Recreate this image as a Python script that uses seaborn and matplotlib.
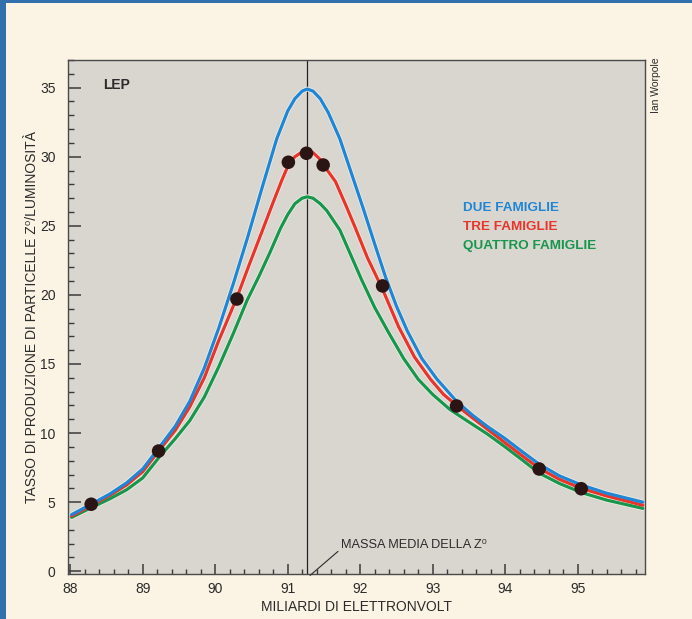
import matplotlib
matplotlib.use("Agg")
import matplotlib.pyplot as plt
from matplotlib.patches import Rectangle
from matplotlib.ticker import MultipleLocator
import pandas as pd
import seaborn as sns

# ---- data ----
due_x = [88.02, 88.29, 88.55, 88.78, 89.00, 89.22, 89.45, 89.65, 89.85, 90.05, 90.25, 90.45,
         90.65, 90.85, 91.00, 91.10, 91.20, 91.27, 91.35, 91.45, 91.56, 91.72, 91.88, 92.04,
         92.20, 92.35, 92.50, 92.65, 92.85, 93.06, 93.33, 93.55, 93.75, 94.00, 94.25, 94.47,
         94.75, 95.05, 95.40, 95.90]
due_y = [4.1, 4.85, 5.6, 6.4, 7.4, 8.9, 10.5, 12.3, 14.7, 17.6, 20.8, 24.2,
         27.8, 31.3, 33.3, 34.2, 34.75, 34.9, 34.75, 34.2, 33.2, 31.3, 28.8, 26.3,
         23.7, 21.3, 19.2, 17.4, 15.4, 13.9, 12.3, 11.3, 10.5, 9.6, 8.6, 7.75,
         6.9, 6.25, 5.65, 5.0]

tre_x = [88.02, 88.29, 88.55, 88.78, 89.00, 89.22, 89.45, 89.65, 89.85, 90.05, 90.30, 90.46,
         90.64, 90.80, 90.92, 91.01, 91.10, 91.20, 91.27, 91.35, 91.45, 91.55, 91.66, 91.81,
         91.93, 92.10, 92.31, 92.53, 92.75, 92.97, 93.15, 93.33, 93.55, 93.75, 94.00, 94.25,
         94.47, 94.75, 95.05, 95.40, 95.90]
tre_y = [4.0, 4.75, 5.5, 6.25, 7.2, 8.7, 10.2, 11.9, 14.0, 16.7, 19.8, 22.05,
         24.5, 26.7, 28.3, 29.4, 30.0, 30.35, 30.45, 30.3, 29.8, 29.0, 28.2, 26.4,
         24.9, 22.7, 20.4, 17.7, 15.5, 13.9, 12.8, 12.0, 11.1, 10.3, 9.3, 8.3,
         7.45, 6.65, 6.0, 5.45, 4.78]

quattro_x = [88.02, 88.29, 88.55, 88.78, 89.00, 89.22, 89.45, 89.65, 89.85, 90.05, 90.25,
             90.44, 90.60, 90.75, 90.90, 91.00, 91.10, 91.20, 91.27, 91.35, 91.45, 91.54,
             91.72, 91.87, 92.02, 92.20, 92.39, 92.60, 92.80, 93.00, 93.24, 93.50, 93.75,
             94.00, 94.25, 94.47, 94.75, 95.05, 95.40, 95.90]
quattro_y = [3.9, 4.6, 5.25, 5.9, 6.75, 8.2, 9.6, 10.9, 12.6, 14.8, 17.2,
             19.6, 21.3, 23.0, 24.8, 25.8, 26.6, 27.0, 27.1, 27.0, 26.6, 26.1,
             24.7, 22.9, 21.1, 19.1, 17.3, 15.4, 13.9, 12.8, 11.7, 10.8, 9.95,
             9.0, 8.0, 7.1, 6.35, 5.7, 5.15, 4.55]

misure_x = [88.29, 89.22, 90.30, 91.01, 91.26, 91.49, 92.31, 93.33, 94.47, 95.05]
misure_y = [4.85, 8.7, 19.7, 29.6, 30.25, 29.4, 20.65, 11.96, 7.4, 5.97]

massa_z = 91.27

x_ticks = [88, 89, 90, 91, 92, 93, 94, 95]
y_ticks = [0, 5, 10, 15, 20, 25, 30, 35]

serie_nomi = ["DUE FAMIGLIE", "TRE FAMIGLIE", "QUATTRO FAMIGLIE"]
serie_colori = ["#1f86d6", "#e8352b", "#17964d"]

# ---- build tidy frame ----
frames = []
for nome, xs, ys in zip(serie_nomi, [due_x, tre_x, quattro_x], [due_y, tre_y, quattro_y]):
    frames.append(pd.DataFrame({"E": xs, "tasso": ys, "serie": nome}))
curve = pd.concat(frames, ignore_index=True)
punti = pd.DataFrame({"E": misure_x, "tasso": misure_y})

sns.set_style("ticks")
plt.rcParams["font.family"] = ["Liberation Sans", "DejaVu Sans"]

BG = "#fbf4e5"
PLOT_BG = "#d9d6d0"
TXT = "#2b2b2b"

fig = plt.figure(figsize=(6.92, 6.19), dpi=100, facecolor=BG)
ax = fig.add_axes([68 / 692, 1 - 574 / 619, (645 - 68) / 692, (574 - 60) / 619])
ax.set_facecolor(PLOT_BG)

# blue border of the page
fig.patches.append(Rectangle((0, 0), 6 / 692, 1, transform=fig.transFigure,
                             facecolor="#3270ad", edgecolor="none", zorder=0))
fig.patches.append(Rectangle((0, 1 - 2.5 / 619), 1, 2.5 / 619, transform=fig.transFigure,
                             facecolor="#3270ad", edgecolor="none", zorder=0))

ax.axvline(massa_z, color="#222222", lw=0.9, zorder=1)

# light halo under the lines (print look)
sns.lineplot(data=curve, x="E", y="tasso", units="serie", estimator=None, sort=False,
             color="#f1eee4", lw=3.4, ax=ax, legend=False, zorder=2)
sns.lineplot(data=curve, x="E", y="tasso", hue="serie", hue_order=serie_nomi[::-1],
             palette=dict(zip(serie_nomi, serie_colori)), sort=False, lw=2.3,
             ax=ax, legend=False, zorder=3)
sns.scatterplot(data=punti, x="E", y="tasso", color="#2a1414", s=95, edgecolor="none",
                ax=ax, zorder=5, legend=False)

ax.set_xlim(87.97, 95.93)
ax.set_ylim(-0.2, 37.0)
ax.set_xticks(x_ticks)
ax.set_yticks(y_ticks)
ax.xaxis.set_minor_locator(MultipleLocator(0.2))
ax.yaxis.set_minor_locator(MultipleLocator(1))
ax.tick_params(axis="both", which="both", direction="in", colors="#3a3a3a",
               labelcolor=TXT, labelsize=10)
ax.tick_params(axis="y", which="major", length=9, width=1.1, pad=9)
ax.tick_params(axis="y", which="minor", length=4, width=1.0)
ax.tick_params(axis="x", which="major", length=7, width=1.1, pad=5.5)
ax.tick_params(axis="x", which="minor", length=3.5, width=1.0)
for s in ax.spines.values():
    s.set_color("#4a4a4a")
    s.set_linewidth(1.0)
    s.set_visible(True)

ax.set_xlabel("MILIARDI DI ELETTRONVOLT", fontsize=10, color=TXT, labelpad=3)
ax.set_ylabel("TASSO DI PRODUZIONE DI PARTICELLE Z\u2070/LUMINOSITÀ", fontsize=10,
              color=TXT, labelpad=0.5)

ax.text(88.45, 35.2, "LEP", fontsize=10, fontweight="bold", color=TXT,
        ha="left", va="center")

for i, (nome, col) in enumerate(zip(serie_nomi, serie_colori)):
    ax.text(93.42, 26.3 - i * 1.38, nome, fontsize=9.7, fontweight="bold", color=col,
            ha="left", va="center")

ax.annotate("MASSA MEDIA DELLA Z\u2070", xy=(91.31, -0.3), xytext=(91.74, 1.9),
            fontsize=9.2, color=TXT, ha="left", va="center",
            arrowprops=dict(arrowstyle="-", color=TXT, lw=0.8, shrinkA=0, shrinkB=0,
                            relpos=(0, 0.2)),
            annotation_clip=False)

fig.text(656 / 692, 1 - 85 / 619, "Ian Worpole", rotation=90, fontsize=7.5,
         color=TXT, ha="center", va="center")

fig.savefig("out.png", dpi=100, facecolor=BG)
